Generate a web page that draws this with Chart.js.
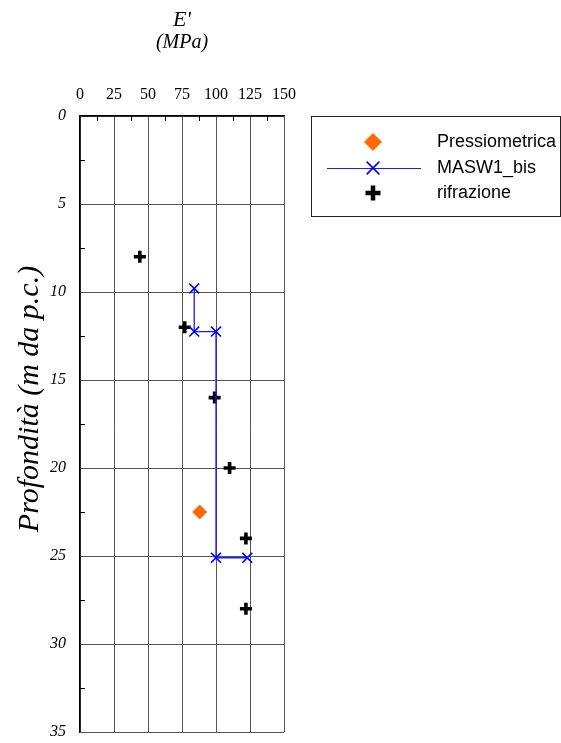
<!DOCTYPE html>
<html>
<head>
<meta charset="utf-8">
<script src="https://cdn.jsdelivr.net/npm/chart.js@4.4.1/dist/chart.umd.min.js"></script>
<style>
  html, body { margin: 0; padding: 0; background: #ffffff; overflow: hidden; }
  #wrap { width: 561px; height: 743px; position: relative; }
  canvas { display: block; }
</style>
</head>
<body>
<div id="wrap"><canvas id="chart" width="561" height="743"></canvas></div>
<script>
// Modulus E' (MPa) against depth (m below ground level)
const pressioE = [88];
const pressioDepth = [22.5];

const maswE = [84, 84, 100, 100, 123];
const maswDepth = [9.8, 12.25, 12.25, 25.1, 25.1];

const rifrazioneE = [44, 77, 99, 110, 122, 122];
const rifrazioneDepth = [8, 12, 16, 20, 24, 28];

const xTicks = [0, 25, 50, 75, 100, 125, 150];
const yTicks = [0, 5, 10, 15, 20, 25, 30, 35];

const seriesNames = ['Pressiometrica', 'MASW1_bis', 'rifrazione'];

const toPoints = (xs, ys) => xs.map((x, i) => ({ x: x, y: ys[i] }));

const SERIF = '"Liberation Serif", "Times New Roman", serif';
const SANS = '"Liberation Sans", Arial, sans-serif';

// legend symbol sizes (slightly larger than the plotted marks)
const legendSymbols = [
  { pointStyle: 'rectRot', radius: 8.5, fill: '#ff6a00', stroke: '#ff6a00', width: 1 },
  { pointStyle: 'crossRot', radius: 9, fill: '#0000ff', stroke: '#0000ff', width: 1.6 },
  { pointStyle: 'cross', radius: 7.5, fill: '#000000', stroke: '#000000', width: 4.5 }
];

function drawSymbol(ctx, s, x, y) {
  ctx.save();
  ctx.fillStyle = s.fill;
  ctx.strokeStyle = s.stroke;
  ctx.lineWidth = s.width;
  Chart.helpers.drawPoint(ctx, {
    pointStyle: s.pointStyle, radius: s.radius, rotation: 0, borderWidth: s.width
  }, x, y);
  ctx.restore();
}

// Axis titles, minor tick marks and the boxed legend
const decorations = {
  id: 'decorations',
  afterDraw(chart) {
    const ctx = chart.ctx;
    const area = chart.chartArea;
    const xs = chart.scales.x;
    const ys = chart.scales.y;
    ctx.save();

    // minor ticks along the top and left edges
    ctx.strokeStyle = '#000';
    ctx.lineWidth = 1;
    ctx.beginPath();
    for (let v = 12.5; v < 150; v += 25) {
      const px = Math.round(xs.getPixelForValue(v)) + 0.5;
      ctx.moveTo(px, area.top);
      ctx.lineTo(px, area.top + 5);
    }
    for (let v = 2.5; v < 35; v += 5) {
      const py = Math.round(ys.getPixelForValue(v)) + 0.5;
      ctx.moveTo(area.left, py);
      ctx.lineTo(area.left + 5, py);
    }
    ctx.stroke();

    // top axis title
    const cx = (area.left + area.right) / 2;
    ctx.fillStyle = '#000';
    ctx.textAlign = 'center';
    ctx.textBaseline = 'middle';
    ctx.font = 'italic 22px ' + SERIF;
    ctx.fillText("E'", cx, 20);
    ctx.font = 'italic 20px ' + SERIF;
    ctx.fillText('(MPa)', cx, 43);

    // left axis title
    ctx.save();
    ctx.translate(30, 399);
    ctx.rotate(-Math.PI / 2);
    ctx.font = 'italic 30px ' + SERIF;
    ctx.fillText('Profondità (m da p.c.)', 0, 0);
    ctx.restore();

    // legend box
    ctx.strokeStyle = '#222';
    ctx.lineWidth = 1;
    ctx.strokeRect(311.5, 116.5, 249, 100);

    const symX = 373;
    const rowY = [142, 168, 193];
    // line sample for the MASW series
    ctx.strokeStyle = chart.data.datasets[1].borderColor;
    ctx.lineWidth = 1;
    ctx.beginPath();
    ctx.moveTo(327, rowY[1] + 0.5);
    ctx.lineTo(421, rowY[1] + 0.5);
    ctx.stroke();
    legendSymbols.forEach((s, i) => drawSymbol(ctx, s, symX, rowY[i]));

    ctx.font = '18px ' + SANS;
    ctx.textAlign = 'left';
    ctx.textBaseline = 'middle';
    ctx.fillStyle = '#000';
    seriesNames.forEach((name, i) => ctx.fillText(name, 437, rowY[i]));
    ctx.restore();
  }
};

new Chart(document.getElementById('chart'), {
  type: 'scatter',
  data: {
    datasets: [
      {
        label: seriesNames[0],
        data: toPoints(pressioE, pressioDepth),
        pointStyle: 'rectRot',
        pointRadius: 7,
        pointBackgroundColor: '#ff6a00',
        pointBorderColor: '#ff6a00',
        pointBorderWidth: 1,
        borderColor: '#ff6a00',
        showLine: false
      },
      {
        label: seriesNames[1],
        data: toPoints(maswE, maswDepth),
        showLine: true,
        borderColor: '#1a1aff',
        borderWidth: 1.3,
        pointStyle: 'crossRot',
        pointRadius: 7,
        pointBorderColor: '#0000ff',
        pointBackgroundColor: '#0000ff',
        pointBorderWidth: 1.6
      },
      {
        label: seriesNames[2],
        data: toPoints(rifrazioneE, rifrazioneDepth),
        pointStyle: 'cross',
        pointRadius: 6,
        pointBorderColor: '#000000',
        pointBackgroundColor: '#000000',
        pointBorderWidth: 3.6,
        borderColor: '#000000',
        showLine: false
      }
    ]
  },
  options: {
    responsive: false,
    animation: false,
    layout: { padding: { left: 0, top: 0, right: 277, bottom: 11 } },
    plugins: {
      legend: { display: false },
      tooltip: { enabled: false }
    },
    scales: {
      x: {
        type: 'linear',
        position: 'top',
        min: 0,
        max: 150,
        afterBuildTicks: (s) => { s.ticks = xTicks.map(v => ({ value: v })); },
        afterFit: (s) => { s.height = 116; s.paddingLeft = 0; s.paddingRight = 0; },
        ticks: {
          color: '#000',
          padding: 12,
          maxRotation: 0,
          font: { family: SERIF, size: 16 }
        },
        grid: { color: '#555', lineWidth: 1, drawTicks: false },
        border: { display: true, color: '#000', width: 1.5 }
      },
      y: {
        type: 'linear',
        position: 'left',
        reverse: true,
        min: 0,
        max: 35,
        afterBuildTicks: (s) => { s.ticks = yTicks.map(v => ({ value: v })); },
        afterFit: (s) => { s.width = 80; s.paddingTop = 0; s.paddingBottom = 0; },
        ticks: {
          color: '#000',
          padding: 14,
          font: { family: SERIF, size: 16, style: 'italic' }
        },
        grid: { color: '#555', lineWidth: 1, drawTicks: false },
        border: { display: true, color: '#000', width: 1.5 }
      }
    }
  },
  plugins: [decorations]
});
</script>
</body>
</html>
